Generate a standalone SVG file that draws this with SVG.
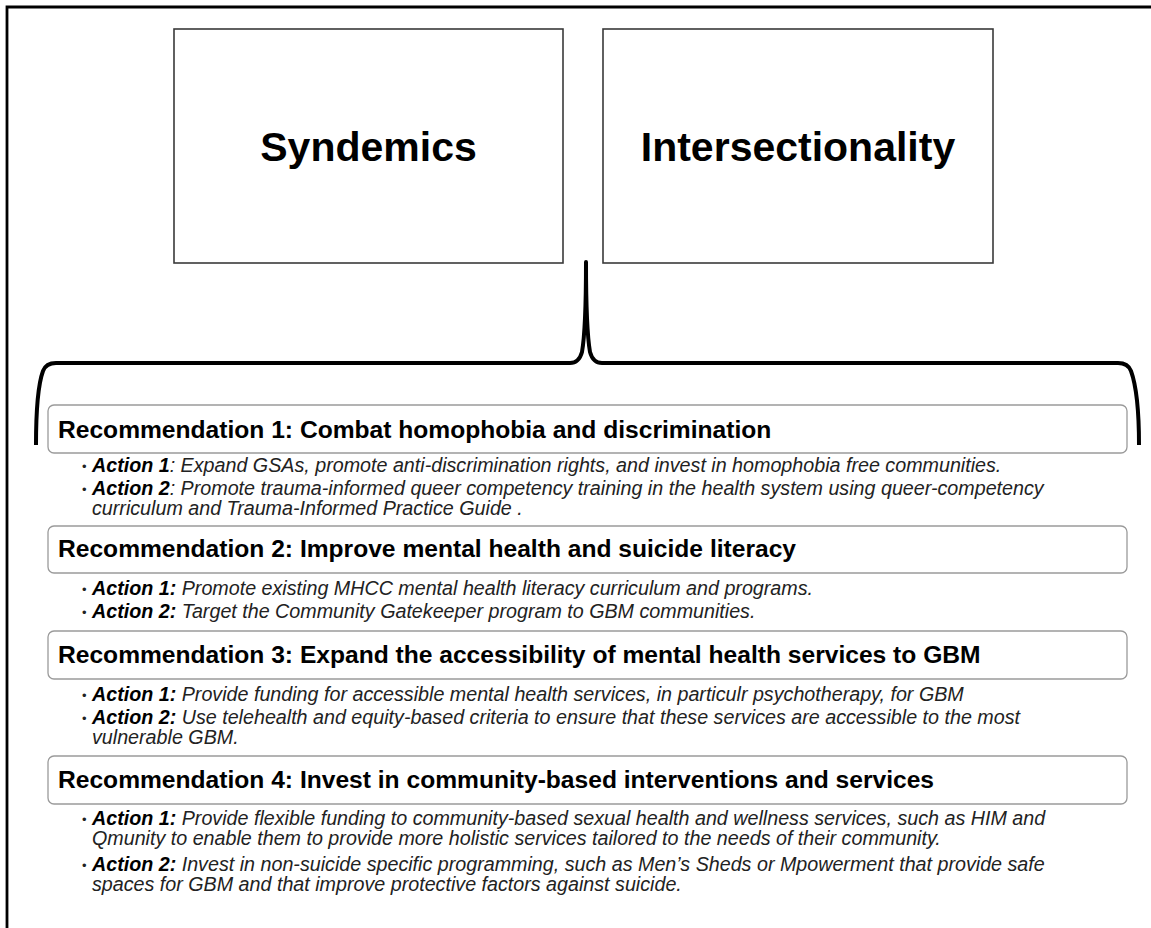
<svg xmlns="http://www.w3.org/2000/svg" width="1151" height="928" viewBox="0 0 1151 928">
  <style>
    .frame { fill: none; stroke: #000; stroke-width: 2.8; }
    .concept { fill: #fff; stroke: #3a3a3a; stroke-width: 1.6; }
    .concept-label { font-family: "Liberation Sans", Arial, sans-serif; font-weight: bold; font-size: 41px; fill: #000; text-anchor: middle; }
    .brace { fill: none; stroke: #000; stroke-width: 4; stroke-linecap: butt; stroke-linejoin: round; }
    .rec { fill: #fff; stroke: #9a9a9a; stroke-width: 1.3; }
    .rec-title { font-family: "Liberation Sans", Arial, sans-serif; font-weight: bold; font-size: 24.6px; fill: #000; }
    .action { font-family: "Liberation Sans", Arial, sans-serif; font-style: italic; font-size: 19.7px; fill: #222; }
    .action .lead { font-weight: bold; fill: #000; }
    .bullet { font-family: "Liberation Sans", Arial, sans-serif; font-size: 13px; fill: #222; }
  </style>

  <rect x="0" y="0" width="1151" height="928" fill="#fff"/>
  <!-- outer frame: left and top edges -->
  <path class="frame" d="M7,928 L7,7 L1151,7"/>

  <!-- framework concepts -->
  <g id="syndemics">
    <rect class="concept" x="174" y="29" width="389" height="234"/>
    <text class="concept-label" x="368.5" y="161">Syndemics</text>
  </g>
  <g id="intersectionality">
    <rect class="concept" x="603" y="29" width="390" height="234"/>
    <text class="concept-label" x="798" y="161">Intersectionality</text>
  </g>

  <!-- curly brace gathering the concepts over the recommendations -->
  <g id="connectors">
    <path class="brace" d="M36,445 C36,405 39,382 43,371 Q46,363 56,363 L570,363 Q579,363 582,352 C585,335 586,300 586,262 C586,300 587,335 590,352 Q593,363 602,363 L1118,363 Q1128,363 1131,371 C1135,382 1139,405 1139,445"/>
  </g>

  <!-- Recommendation 1 -->
  <g id="rec1">
    <rect class="rec" x="48" y="405" width="1079" height="48" rx="6"/>
    <text class="rec-title" x="58" y="438">Recommendation 1: Combat homophobia and discrimination</text>
    <text class="bullet" x="82" y="471">•</text>
    <text class="action" x="92" y="472"><tspan class="lead">Action 1</tspan>: Expand GSAs, promote anti-discrimination rights, and invest in homophobia free communities.</text>
    <text class="bullet" x="82" y="494">•</text>
    <text class="action" x="92" y="495"><tspan class="lead">Action 2</tspan>: Promote trauma-informed queer competency training in the health system using queer-competency</text>
    <text class="action" x="92" y="515">curriculum and Trauma-Informed Practice Guide .</text>
  </g>

  <!-- Recommendation 2 -->
  <g id="rec2">
    <rect class="rec" x="48" y="526" width="1079" height="47" rx="6"/>
    <text class="rec-title" x="58" y="557">Recommendation 2: Improve mental health and suicide literacy</text>
    <text class="bullet" x="82" y="594">•</text>
    <text class="action" x="92" y="595"><tspan class="lead">Action 1:</tspan> Promote existing MHCC mental health literacy curriculum and programs.</text>
    <text class="bullet" x="82" y="617">•</text>
    <text class="action" x="92" y="618"><tspan class="lead">Action 2:</tspan> Target the Community Gatekeeper program to GBM communities.</text>
  </g>

  <!-- Recommendation 3 -->
  <g id="rec3">
    <rect class="rec" x="48" y="631" width="1079" height="48" rx="6"/>
    <text class="rec-title" x="58" y="663">Recommendation 3: Expand the accessibility of mental health services to GBM</text>
    <text class="bullet" x="82" y="700">•</text>
    <text class="action" x="92" y="701"><tspan class="lead">Action 1:</tspan> Provide funding for accessible mental health services, in particulr psychotherapy, for GBM</text>
    <text class="bullet" x="82" y="723">•</text>
    <text class="action" x="92" y="724"><tspan class="lead">Action 2:</tspan> Use telehealth and equity-based criteria to ensure that these services are accessible to the most</text>
    <text class="action" x="92" y="744">vulnerable GBM.</text>
  </g>

  <!-- Recommendation 4 -->
  <g id="rec4">
    <rect class="rec" x="48" y="756" width="1079" height="48" rx="6"/>
    <text class="rec-title" x="58" y="788">Recommendation 4: Invest in community-based interventions and services</text>
    <text class="bullet" x="82" y="824">•</text>
    <text class="action" x="92" y="825"><tspan class="lead">Action 1:</tspan> Provide flexible funding to community-based sexual health and wellness services, such as HIM and</text>
    <text class="action" x="92" y="845">Qmunity to enable them to provide more holistic services tailored to the needs of their community.</text>
    <text class="bullet" x="82" y="870">•</text>
    <text class="action" x="92" y="871"><tspan class="lead">Action 2:</tspan> Invest in non-suicide specific programming, such as Men’s Sheds or Mpowerment that provide safe</text>
    <text class="action" x="92" y="891">spaces for GBM and that improve protective factors against suicide.</text>
  </g>
</svg>
